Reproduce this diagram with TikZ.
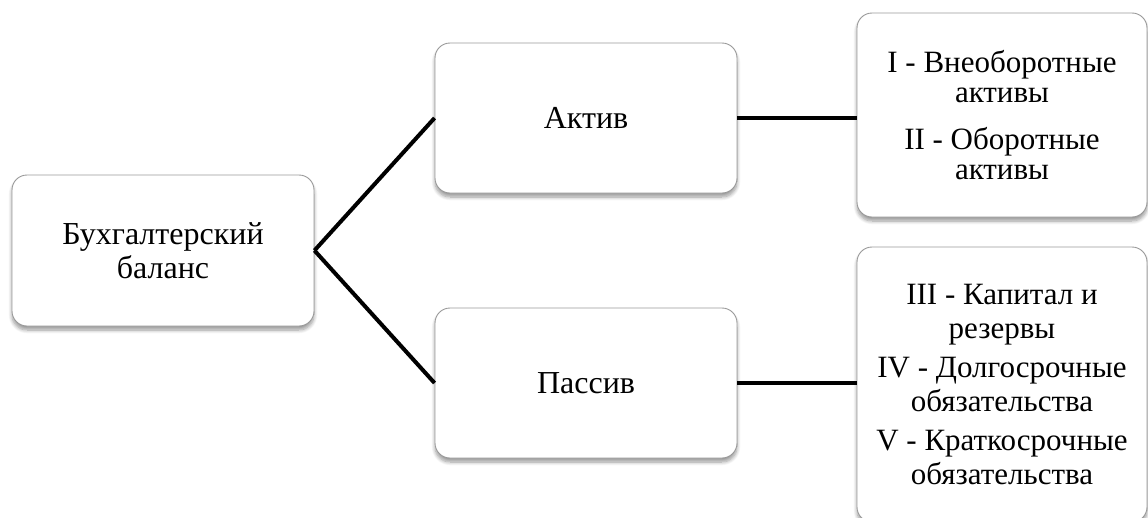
\documentclass[tikz,border=0pt]{standalone}
\usepackage{fontspec}
\setmainfont{Liberation Serif}
\usetikzlibrary{shadows.blur}
\tikzset{
  box/.style={draw=gray!80, line width=0.9pt, fill=white, rounded corners=15pt,
    align=center, inner sep=0pt,
    blur shadow={shadow xshift=0pt, shadow yshift=-4pt, shadow blur steps=8, shadow opacity=40, shadow blur radius=3.5pt}},
  link/.style={line width=4pt, black},
}
\begin{document}
\begin{tikzpicture}[x=1pt,y=-1pt]
\useasboundingbox (0,0) rectangle (1148,517);
\node[box, minimum width=302pt, minimum height=151pt, font=\fontsize{32}{34}\selectfont] (bal) at (163,250.5) {Бухгалтерский\\баланс};
\node[box, minimum width=302pt, minimum height=150pt, font=\fontsize{32}{34}\selectfont] (act) at (586,118) {Актив};
\node[box, minimum width=302pt, minimum height=150pt, font=\fontsize{32}{34}\selectfont] (pas) at (586,383) {Пассив};
\node[box, minimum width=290pt, minimum height=204pt, font=\fontsize{31}{30.5}\selectfont] (ra) at (1002,115) {I - Внеоборотные\\активы\\[16pt]II - Оборотные\\активы};
\node[box, minimum width=290pt, minimum height=275pt, font=\fontsize{31}{33.5}\selectfont] (rp) at (1002,384.5) {III - Капитал и\\резервы\\[6pt]IV - Долгосрочные\\обязательства\\[6pt]V - Краткосрочные\\обязательства};
\draw[link] (bal.east) -- (act.west);
\draw[link] (bal.east) -- (pas.west);
\draw[link] (act.east) -- (ra.west |- act.east);
\draw[link] (pas.east) -- (rp.west |- pas.east);
\end{tikzpicture}
\end{document}
